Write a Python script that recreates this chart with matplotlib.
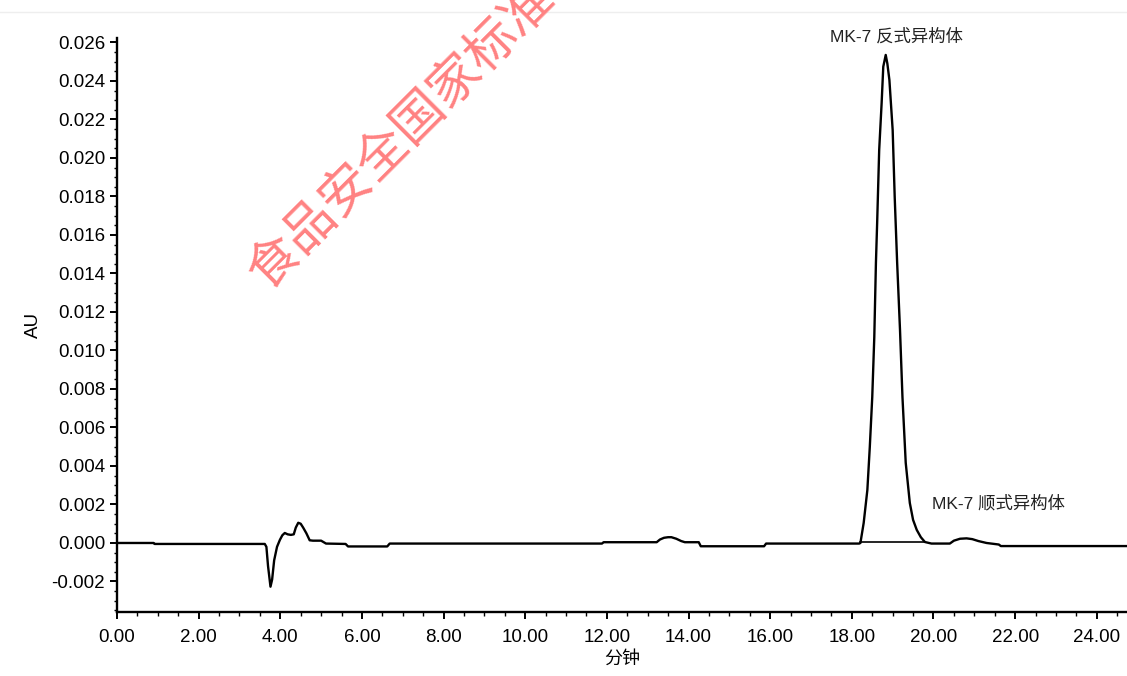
import matplotlib
matplotlib.use("Agg")
import matplotlib.pyplot as plt
from matplotlib.ticker import MultipleLocator, FormatStrFormatter

plt.rcParams['font.family'] = ['Liberation Sans', 'Noto Sans CJK SC']
plt.rcParams['axes.unicode_minus'] = False

# chromatogram (minutes, AU)
time_min = [0.0, 0.9, 0.92, 3.62, 3.66, 3.70, 3.76, 3.80, 3.85, 3.92,
            3.99, 4.05, 4.11, 4.18, 4.26, 4.33, 4.38, 4.44, 4.50, 4.56,
            4.64, 4.72, 4.80, 5.00, 5.12, 5.60, 5.66, 6.62, 6.68, 11.88,
            11.92, 13.22, 13.30, 13.40, 13.50, 13.58, 13.70, 13.82, 13.91, 14.25,
            14.30, 15.85, 15.90, 18.18, 18.21, 18.29, 18.38, 18.44, 18.50, 18.55,
            18.59, 18.62, 18.67, 18.73, 18.77, 18.83, 18.87, 18.92, 19.00, 19.05,
            19.11, 19.18, 19.24, 19.32, 19.42, 19.50, 19.59, 19.69, 19.79, 19.95,
            20.40, 20.50, 20.65, 20.81, 20.95, 21.10, 21.30, 21.60, 21.65, 24.74]
absorbance = [0.0, 0.0, -0.00005, -0.00005, -0.0002, -0.0012, -0.00227, -0.0019, -0.0009, -0.0002,
              0.00016, 0.0004, 0.00052, 0.00045, 0.00042, 0.00045, 0.0008, 0.00105, 0.001, 0.0008,
              0.0005, 0.00014, 0.00012, 0.00012, -0.00003, -0.00005, -0.00018, -0.00018, -0.00003, -0.00003,
              0.00004, 0.00004, 0.00018, 0.00027, 0.0003, 0.0003, 0.00022, 0.0001, 0.00004, 0.00004,
              -0.00017, -0.00017, -0.00003, -0.00003, 0.0, 0.00104, 0.00275, 0.00499, 0.00758, 0.0107,
              0.01455, 0.01662, 0.02042, 0.02286, 0.02474, 0.02535, 0.0249, 0.02405, 0.02145, 0.01797,
              0.01455, 0.01106, 0.00758, 0.00416, 0.00208, 0.0012, 0.00068, 0.0003, 0.00005, -0.00003,
              -0.00003, 0.00012, 0.00022, 0.00024, 0.0002, 0.0001, 0.0, -0.00008, -0.00016, -0.00016]

# integration baseline under the main peak
base_time = [18.21, 19.80]
base_au = [0.00005, 0.00005]

peak_labels = ["MK-7 反式异构体", "MK-7 顺式异构体"]
label_time = [19.1, 21.6]
label_au = [0.0263, 0.00208]

fig = plt.figure(figsize=(11.27, 6.76), dpi=100)
ax = fig.add_axes([0.1038, 0.0947, 0.8962, 0.8491])

ax.plot(time_min, absorbance, color="black", lw=1.7)
ax.plot(base_time, base_au, color="black", lw=1.2)

ax.set_xlim(0, 24.74)
ax.set_ylim(-0.003584, 0.02623)

ax.xaxis.set_major_locator(MultipleLocator(2))
ax.xaxis.set_minor_locator(MultipleLocator(0.5))
ax.xaxis.set_major_formatter(FormatStrFormatter("%.2f"))
ax.yaxis.set_major_locator(MultipleLocator(0.002))
ax.yaxis.set_minor_locator(MultipleLocator(0.0005))
ax.yaxis.set_major_formatter(FormatStrFormatter("%.3f"))

ax.spines["top"].set_visible(False)
ax.spines["right"].set_visible(False)
ax.spines["left"].set_linewidth(1.7)
ax.spines["bottom"].set_linewidth(1.7)
ax.tick_params(which="major", length=5, width=1.4, labelsize=13.5, colors="black")
ax.tick_params(axis="x", which="major", pad=7)
ax.tick_params(which="minor", length=3, width=1.0)
ax.tick_params(axis="y", which="minor", length=2)

ax.set_xlabel("分钟", family=["Noto Sans CJK SC"], fontsize=13, labelpad=3)
ax.set_ylabel("AU", fontsize=13.5, labelpad=7)

for txt, tx, ty in zip(peak_labels, label_time, label_au):
    ax.text(tx, ty, txt, ha="center", va="center", fontsize=12.5,
            color="#222222", clip_on=False)

# faint border line from the screenshot
fig.add_artist(plt.Line2D([0, 1], [1 - 12 / 676, 1 - 12 / 676],
                          color="#eeeeee", lw=1, transform=fig.transFigure))

# watermark, cut by the top edge as in the source
fig.text(0.356, 0.800, "食品安全国家标准", family=["Noto Sans CJK SC"],
         fontsize=37, color="#ff8282", rotation=45, ha="center", va="center",
         rotation_mode="anchor", zorder=10)

fig.savefig("out.png", dpi=100)
